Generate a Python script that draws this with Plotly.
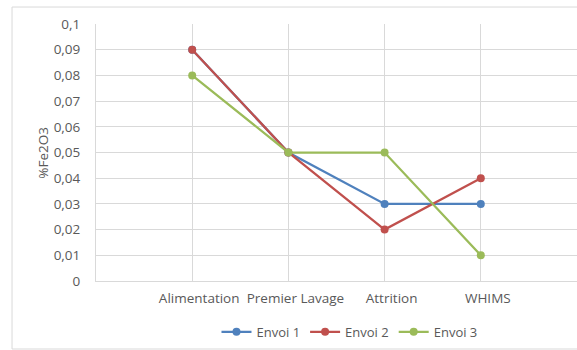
import plotly.graph_objects as go

# Process stages and Fe2O3 content per shipment
stages = ["Alimentation", "Premier Lavage", "Attrition", "WHIMS"]
envoi_1 = [0.09, 0.05, 0.03, 0.03]
envoi_2 = [0.09, 0.05, 0.02, 0.04]
envoi_3 = [0.08, 0.05, 0.05, 0.01]

y_tickvals = [0, 0.01, 0.02, 0.03, 0.04, 0.05, 0.06, 0.07, 0.08, 0.09, 0.1]
y_ticktext = ["0", "0,01", "0,02", "0,03", "0,04", "0,05", "0,06", "0,07", "0,08", "0,09", "0,1"]

series = [
    ("Envoi 1", envoi_1, "#4F81BD"),
    ("Envoi 2", envoi_2, "#C0504D"),
    ("Envoi 3", envoi_3, "#9BBB59"),
]

FONT = "Open Sans, Calibri, sans-serif"
TEXT = "#595959"
GRID = "#D9D9D9"

fig = go.Figure()
for name, vals, color in series:
    fig.add_trace(go.Scatter(
        x=stages, y=vals, name=name, mode="lines+markers",
        line=dict(color=color, width=2.25),
        marker=dict(color=color, size=8),
    ))

fig.update_layout(
    width=577, height=350,
    margin=dict(l=96, r=0, t=24, b=69),
    paper_bgcolor="white", plot_bgcolor="white",
    font=dict(family=FONT, size=13, color=TEXT),
    showlegend=True,
    legend=dict(orientation="h", x=0.527, xanchor="center", y=-0.198, yanchor="middle",
                font=dict(size=13, color=TEXT), itemwidth=30, tracegroupgap=0),
    xaxis=dict(type="category", categoryorder="array", categoryarray=stages,
               range=[-1, 4], showgrid=True, gridcolor=GRID, gridwidth=1,
               showline=True, linecolor=GRID, ticks="", ticklabelstandoff=5,
               ticklabelshift=7,
               tickfont=dict(size=13.5, color=TEXT), zeroline=False),
    yaxis=dict(range=[0, 0.1], tickvals=y_tickvals, ticktext=y_ticktext,
               showgrid=True, gridcolor=GRID, gridwidth=1,
               showline=True, mirror=True, linecolor=GRID, ticks="",
               ticklabelstandoff=12, tickfont=dict(size=13.5, color=TEXT), zeroline=False),
    annotations=[dict(text="%Fe2O3", textangle=-90, xref="paper", yref="paper",
                      x=-0.112, y=0.5, xanchor="center", yanchor="middle",
                      showarrow=False, font=dict(size=13.5, color=TEXT))],
    shapes=[dict(type="rect", xref="paper", yref="paper",
                 x0=-0.1746, x1=1.02, y0=-0.2646, y1=1.066,
                 line=dict(color=GRID, width=1), layer="below")],
)

fig.write_html("out.html")
